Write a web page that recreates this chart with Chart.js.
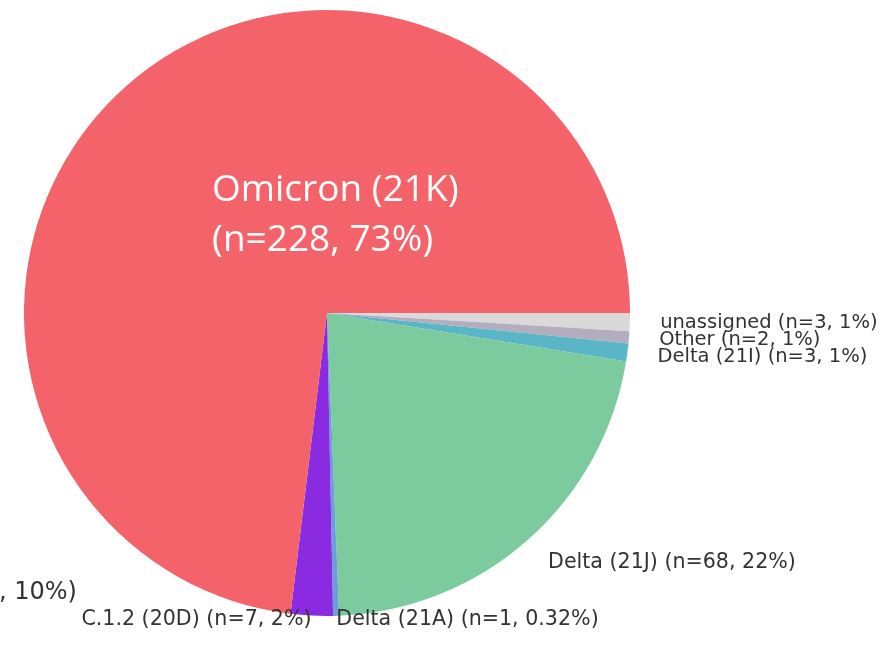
<!DOCTYPE html>
<html>
<head>
<meta charset="utf-8">
<script src="https://cdn.jsdelivr.net/npm/chart.js@4.4.1/dist/chart.umd.min.js"></script>
<style>
  html, body { margin: 0; padding: 0; background: #fff; }
  #wrap { position: relative; width: 889px; height: 656px; }
</style>
</head>
<body>
<div id="wrap"><canvas id="chart-pie" width="889" height="656"></canvas></div>
<script>
// Variant breakdown – listed clockwise from 3 o'clock (matplotlib goes the other way)
const labels = [
  "unassigned (n=3, 1%)",
  "Other (n=2, 1%)",
  "Delta (21I) (n=3, 1%)",
  "Delta (21J) (n=68, 22%)",
  "Delta (21A) (n=1, 0.32%)",
  "C.1.2 (20D) (n=7, 2%)",
  "Omicron (21K)\n(n=228, 73%)",
];
const counts = [3, 2, 3, 68, 1, 7, 228];
const colors = ["#d9d9d9", "#b3adbd", "#5ab6c6", "#7ccb9e", "#6a9fd8", "#8a2be2", "#f4626a"];
// label distance as fraction of radius (bottom ones were pulled in on the original)
const labelDist = [1.1, 1.1, 1.1, 1.1, 1.014, 1.014, 0];
const labelSize = [19.5, 19.5, 19.5, 20.6, 20.6, 20.6, 0];

/* ──────────────────────────────────────────────
   Outside labels, matplotlib style
   ────────────────────────────────────────────── */
const pieLabels = {
  id: "pieLabels",
  afterDraw(chart) {
    const ctx = chart.ctx;
    const arcs = chart.getDatasetMeta(0).data;
    ctx.save();
    ctx.textBaseline = "middle";
    arcs.forEach((arc, i) => {
      const mid = (arc.startAngle + arc.endAngle) / 2;
      if (i === arcs.length - 1) {
        // big white label inside the Omicron slice
        ctx.fillStyle = "#ffffff";
        ctx.font = "37px 'Open Sans'";
        ctx.textAlign = "left";
        const lines = labels[i].split("\n");
        lines.forEach((ln, k) => ctx.fillText(ln, arc.x - 115, arc.y - 123 + k * 50));
        return;
      }
      const d = labelDist[i] * arc.outerRadius;
      const x = arc.x + Math.cos(mid) * d;
      const y = arc.y + Math.sin(mid) * d;
      ctx.fillStyle = "#333333";
      ctx.font = labelSize[i] + "px 'DejaVu Sans'";
      ctx.textAlign = x >= arc.x ? "left" : "right";
      ctx.fillText(labels[i], x, y);
    });
    // cut-off label from the neighbouring pie
    ctx.fillStyle = "#333333";
    ctx.font = "24px 'DejaVu Sans'";
    ctx.textAlign = "left";
    ctx.fillText(", 10%)", -1, 593);
    ctx.restore();
  },
};

new Chart(document.getElementById("chart-pie"), {
  type: "pie",
  data: {
    labels: labels,
    datasets: [{
      data: counts,
      backgroundColor: colors,
      borderWidth: 0,
    }],
  },
  options: {
    responsive: false,
    animation: false,
    rotation: 90,
    layout: { padding: { left: 24, right: 259, top: 10, bottom: 40 } },
    plugins: {
      legend: { display: false },
      tooltip: { enabled: false },
    },
  },
  plugins: [pieLabels],
});
</script>
</body>
</html>
